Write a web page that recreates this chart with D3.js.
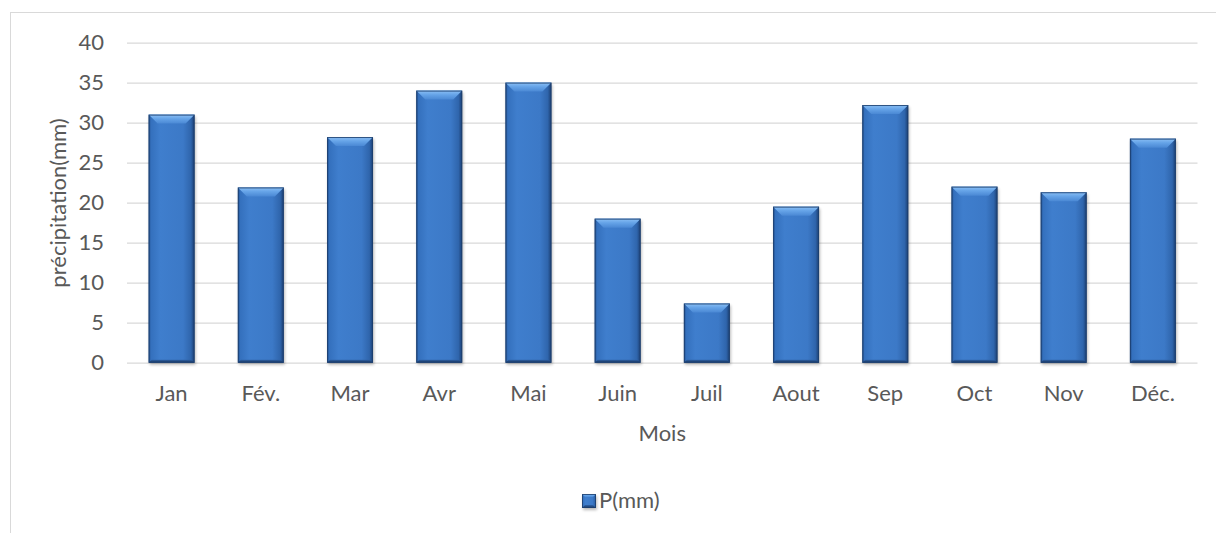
<!DOCTYPE html>
<html>
<head>
<meta charset="utf-8">
<script src="https://cdn.jsdelivr.net/npm/d3@7"></script>
<style>
  html, body { margin: 0; padding: 0; background: #fff; }
  svg { display: block; }
  text { font-family: Lato, "Open Sans", sans-serif; fill: #595959; }
</style>
</head>
<body>
<svg id="chart" width="1216" height="533"></svg>
<script>
// Monthly precipitation (mm)
const months = ["Jan", "Fév.", "Mar", "Avr", "Mai", "Juin", "Juil", "Aout", "Sep", "Oct", "Nov", "Déc."];
const precip = [31, 21.9, 28.2, 34, 35, 18, 7.4, 19.5, 32.2, 22, 21.3, 28];
const yTicks = [0, 5, 10, 15, 20, 25, 30, 35, 40];
const seriesName = "P(mm)";
const xTitle = "Mois";
const yTitle = "précipitation(mm)";

const W = 1216, H = 533;
const plot = { left: 127, right: 1197.5, top: 42.6, bottom: 362.7 };
const fontSize = 22;

const svg = d3.select("#chart");
const defs = svg.append("defs");

// Horizontal shading across the bar face
const body = defs.append("linearGradient").attr("id", "barBody")
  .attr("x1", "0").attr("x2", "1").attr("y1", "0").attr("y2", "0");
[["0%", "#1f4a86"], ["5%", "#3470bd"], ["25%", "#3f7ecd"], ["75%", "#3c79c7"],
 ["92%", "#2f65ac"], ["100%", "#1b3d6f"]]
  .forEach(([o, c]) => body.append("stop").attr("offset", o).attr("stop-color", c));

// Lit top bevel
const bevel = defs.append("linearGradient").attr("id", "bevelTop")
  .attr("x1", "0").attr("x2", "0").attr("y1", "0").attr("y2", "1");
[["0%", "#8cc0f5"], ["45%", "#66a4e8"], ["100%", "#4a88d4"]]
  .forEach(([o, c]) => bevel.append("stop").attr("offset", o).attr("stop-color", c));

// Darker lower edge
const bottomG = defs.append("linearGradient").attr("id", "bevelBottom")
  .attr("x1", "0").attr("x2", "0").attr("y1", "0").attr("y2", "1");
[["0%", "#2f62a6"], ["100%", "#17355f"]]
  .forEach(([o, c]) => bottomG.append("stop").attr("offset", o).attr("stop-color", c));

const blur = defs.append("filter").attr("id", "soft")
  .attr("x", "-20%").attr("y", "-20%").attr("width", "140%").attr("height", "140%");
blur.append("feGaussianBlur").attr("stdDeviation", 1.6);

// Chart frame (only top and left edges fall inside the view)
svg.append("rect")
  .attr("x", 10.5).attr("y", 12.5).attr("width", W + 20).attr("height", H + 20)
  .attr("fill", "none").attr("stroke", "#d9d9d9").attr("stroke-width", 1);

const x = d3.scaleBand().domain(months)
  .range([plot.left, plot.right]).paddingInner(0.4845).paddingOuter(0.24225);
const y = d3.scaleLinear().domain([0, 40]).range([plot.bottom, plot.top]);

// Gridlines
svg.append("g")
  .attr("transform", `translate(${plot.left},0)`)
  .call(d3.axisLeft(y).tickValues(yTicks).tickSize(-(plot.right - plot.left)).tickFormat(""))
  .call(g => g.select(".domain").remove())
  .call(g => g.selectAll("line").attr("stroke", "#d9d9d9").attr("stroke-width", 1.3));

// Y tick labels
svg.append("g")
  .attr("transform", `translate(104,0)`)
  .call(d3.axisLeft(y).tickValues(yTicks).tickSize(0).tickPadding(0))
  .call(g => g.select(".domain").remove())
  .call(g => g.selectAll("text")
    .attr("font-size", fontSize).attr("fill", "#595959")
    .attr("font-family", "Lato, 'Open Sans', sans-serif"));

// X category labels
svg.append("g")
  .attr("transform", `translate(0,${plot.bottom})`)
  .call(d3.axisBottom(x).tickSize(0).tickPadding(23))
  .call(g => g.select(".domain").remove())
  .call(g => g.selectAll("text")
    .attr("font-size", fontSize).attr("fill", "#595959")
    .attr("font-family", "Lato, 'Open Sans', sans-serif"));

// Draws one bevelled bar at (x0, y0) of size w x h
function bevelBar(g, x0, y0, w, h, b) {
  const bb = Math.min(b, h / 2, w / 2);
  g.append("rect").attr("x", x0 + 1).attr("y", y0 + 2).attr("width", w).attr("height", h)
    .attr("fill", "#000").attr("opacity", 0.28).attr("filter", "url(#soft)");
  g.append("rect").attr("x", x0).attr("y", y0).attr("width", w).attr("height", h)
    .attr("fill", "url(#barBody)");
  g.append("polygon")
    .attr("points", [[x0, y0], [x0 + w, y0], [x0 + w - bb, y0 + bb], [x0 + bb, y0 + bb]].join(" "))
    .attr("fill", "url(#bevelTop)");
  const bbot = Math.min(3, h / 4);
  g.append("polygon")
    .attr("points", [[x0, y0 + h], [x0 + w, y0 + h], [x0 + w - bbot, y0 + h - bbot], [x0 + bbot, y0 + h - bbot]].join(" "))
    .attr("fill", "url(#bevelBottom)");
  g.append("rect").attr("x", x0 + 0.5).attr("y", y0 + 0.5).attr("width", w - 1).attr("height", h - 1)
    .attr("fill", "none").attr("stroke", "#1d406f").attr("stroke-width", 1).attr("opacity", 0.85);
}

// Bars
const bars = svg.append("g");
months.forEach((m, i) => {
  const v = precip[i];
  const g = bars.append("g").attr("class", "bar");
  bevelBar(g, x(m), y(v), x.bandwidth(), y(0) - y(v), 9);
});

// Axis titles
svg.append("text")
  .attr("x", (plot.left + plot.right) / 2).attr("y", 441)
  .attr("text-anchor", "middle").attr("font-size", fontSize).text(xTitle);

svg.append("text")
  .attr("transform", `translate(66,203) rotate(-90)`)
  .attr("text-anchor", "middle").attr("font-size", fontSize).text(yTitle);

// Legend
const legend = svg.append("g").attr("transform", "translate(582,494)");
bevelBar(legend, 0, 0, 14, 14, 3);
legend.append("text").attr("x", 17).attr("y", 14)
  .attr("font-size", fontSize).text(seriesName);
</script>
</body>
</html>
